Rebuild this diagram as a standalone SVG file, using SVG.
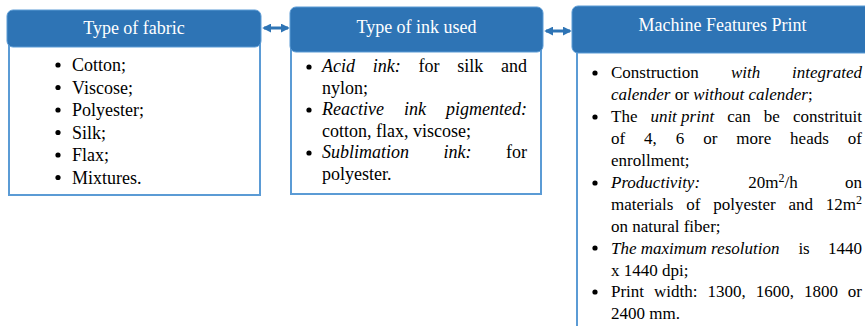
<svg xmlns="http://www.w3.org/2000/svg" width="865" height="326" viewBox="0 0 865 326">
<defs>
<style>
.hdr{fill:#2E74B5;stroke:#5B9BD5;stroke-width:1}
.body{fill:#fff;stroke:#5B9BD5;stroke-width:2}
.ttl{font-family:"Liberation Serif",serif;font-size:18px;fill:#fff;text-anchor:middle}
.t{font-family:"Liberation Serif",serif;font-size:18px;fill:#000}
.s{font-family:"Liberation Serif",serif;font-size:17px;fill:#000}
.i{font-style:italic}
.e{text-anchor:end}
.b{fill:#000}
.con{stroke:#2E74B5;stroke-width:3;fill:none;marker-start:url(#ah);marker-end:url(#ah)}
</style>
<marker id="ah" viewBox="0 0 10 10" refX="8" refY="5" markerWidth="3" markerHeight="3" orient="auto-start-reverse">
<path d="M0,0 L10,5 L0,10 z" fill="#2E74B5"/>
</marker>
</defs>
<rect width="865" height="326" fill="#fff"/>

<g id="connectors">
<line class="con" x1="264" y1="28" x2="288" y2="28"/>
<line class="con" x1="546" y1="31" x2="570" y2="31"/>
</g>

<g id="fabric">
<rect class="body" x="9" y="40" width="251" height="155"/>
<rect class="hdr" x="7" y="10" width="254" height="37" rx="6"/>
<text class="ttl" x="134" y="34">Type of fabric</text>
<g class="b">
<circle cx="58" cy="65" r="2.6"/><circle cx="58" cy="87.5" r="2.6"/><circle cx="58" cy="110" r="2.6"/>
<circle cx="58" cy="132.5" r="2.6"/><circle cx="58" cy="155" r="2.6"/><circle cx="58" cy="177.5" r="2.6"/>
</g>
<text class="t" x="72" y="71">Cotton;</text>
<text class="t" x="72" y="93.5">Viscose;</text>
<text class="t" x="72" y="116">Polyester;</text>
<text class="t" x="72" y="138.5">Silk;</text>
<text class="t" x="72" y="161">Flax;</text>
<text class="t" x="72" y="183.5">Mixtures.</text>
</g>

<g id="ink">
<rect class="body" x="291" y="45" width="250" height="149"/>
<rect class="hdr" x="290" y="7" width="253" height="45" rx="6"/>
<text class="ttl" x="416.5" y="33">Type of ink used</text>
<g class="b">
<circle cx="309" cy="67" r="2.6"/><circle cx="309" cy="110" r="2.6"/><circle cx="309" cy="153" r="2.6"/>
</g>
<text class="t i" x="322" y="72">Acid</text>
<text class="t i" x="372.7" y="72">ink:</text>
<text class="t" x="418.5" y="72">for</text>
<text class="t" x="457.2" y="72">silk</text>
<text class="t e" x="527" y="72">and</text>
<text class="t" x="322" y="93.5">nylon;</text>
<text class="t i" x="322" y="115">Reactive</text>
<text class="t i" x="404" y="115">ink</text>
<text class="t i e" x="527" y="115">pigmented:</text>
<text class="t" x="322" y="136.5">cotton, flax, viscose;</text>
<text class="t i" x="322" y="158">Sublimation</text>
<text class="t i" x="443.5" y="158">ink:</text>
<text class="t e" x="527" y="158">for</text>
<text class="t" x="322" y="179.5">polyester.</text>
</g>

<g id="machine">
<rect class="body" x="577" y="46" width="300" height="290"/>
<rect class="hdr" x="572" y="6" width="301" height="47" rx="6"/>
<text class="ttl" x="722.5" y="31">Machine Features Print</text>
<g class="b">
<circle cx="595" cy="73" r="2.6"/><circle cx="595" cy="117" r="2.6"/><circle cx="595" cy="183" r="2.6"/>
<circle cx="595" cy="248" r="2.6"/><circle cx="595" cy="292" r="2.6"/>
</g>
<text class="s" x="611" y="78">Construction</text>
<text class="s i" x="731" y="78">with</text>
<text class="s i e" x="862" y="78">integrated</text>
<text class="s" x="611" y="100"><tspan class="i">calender</tspan> or <tspan class="i">without calender</tspan>;</text>
<text class="s" x="611" y="122">The</text>
<text class="s i" x="650.4" y="122">unit print</text>
<text class="s" x="727.2" y="122">can</text>
<text class="s" x="763.8" y="122">be</text>
<text class="s e" x="862" y="122">constrituit</text>
<text class="s" x="611" y="144">of</text>
<text class="s" x="644.1" y="144">4,</text>
<text class="s" x="675.8" y="144">6</text>
<text class="s" x="703.2" y="144">or</text>
<text class="s" x="736.3" y="144">more</text>
<text class="s" x="790.1" y="144">heads</text>
<text class="s e" x="862" y="144">of</text>
<text class="s" x="611" y="166">enrollment;</text>
<text class="s i" x="611" y="188">Productivity:</text>
<text class="s" x="748.2" y="188">20m<tspan font-size="12" dy="-6">2</tspan><tspan dy="6">/h</tspan></text>
<text class="s e" x="862" y="188">on</text>
<text class="s" x="611" y="210">materials</text>
<text class="s" x="686.2" y="210">of</text>
<text class="s" x="713.3" y="210">polyester</text>
<text class="s" x="788.5" y="210">and</text>
<text class="s e" x="862" y="210">12m<tspan font-size="12" dy="-6">2</tspan></text>
<text class="s" x="611" y="232">on natural fiber;</text>
<text class="s i" x="611" y="254">The maximum resolution</text>
<text class="s" x="798.4" y="254">is</text>
<text class="s e" x="862" y="254">1440</text>
<text class="s" x="611" y="275.5">x 1440 dpi;</text>
<text class="s" x="611" y="297">Print</text>
<text class="s" x="654" y="297">width:</text>
<text class="s" x="707.5" y="297">1300,</text>
<text class="s" x="755.7" y="297">1600,</text>
<text class="s" x="803.9" y="297">1800</text>
<text class="s e" x="862" y="297">or</text>
<text class="s" x="611" y="319">2400 mm.</text>
</g>
</svg>
